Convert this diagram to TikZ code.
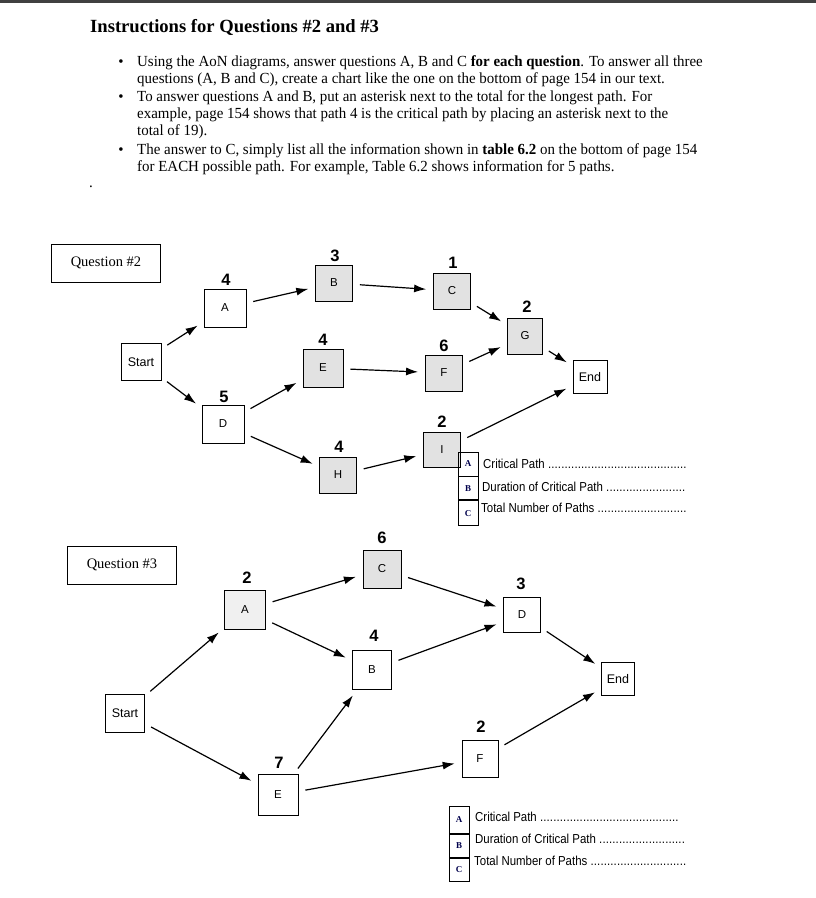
\documentclass[tikz,border=0pt]{standalone}
\usepackage{fontspec}
\setmainfont{Liberation Serif}
\setsansfont{Liberation Sans}
\newfontfamily\narrowsans{Liberation Sans}[FakeStretch=0.88]
\newfontfamily\bodyserif{Liberation Serif}[FakeStretch=0.97]
\usetikzlibrary{arrows.meta}
\definecolor{boxgray}{HTML}{E2E2E2}
\newcommand{\mydots}[1]{\makebox[#1]{\leaders\hbox to 3.3pt{\hss.\hss}\hfill}}
\tikzset{
  act/.style={draw, line width=0.8pt, minimum width=37pt, minimum height=36pt, inner sep=0pt,
    font=\sffamily\fontsize{11.5}{13}\selectfont},
  gact/.style={act, fill=boxgray},
  se/.style={draw, line width=0.8pt, minimum width=36pt, minimum height=32pt, inner sep=0pt,
    font=\sffamily\fontsize{12.5}{14}\selectfont},
  num/.style={font=\sffamily\bfseries\fontsize{16.5}{18}\selectfont, inner sep=0pt},
  arr/.style={-{Latex[length=12pt,width=8pt]}, line width=1.2pt, shorten >=7pt, shorten <=7pt},
  qbox/.style={draw, line width=0.8pt, minimum width=109pt, minimum height=38pt, inner sep=0pt,
    font=\fontsize{14.5}{16}\selectfont},
  body/.style={anchor=base west, inner sep=0pt, font=\bodyserif\fontsize{15.4}{17}\selectfont},
  lbox/.style={draw, line width=0.8pt, minimum width=20pt, minimum height=23pt, inner sep=0pt,
    font=\bfseries\fontsize{9}{10}\selectfont, text=blue!30!black},
  ltext/.style={anchor=base west, inner sep=0pt, font=\narrowsans\fontsize{13}{14}\selectfont},
}
\begin{document}
\begin{tikzpicture}[x=1pt,y=-1pt]
\useasboundingbox (0,0) rectangle (816,898);
\fill[black!75] (0,0) rectangle (816,3);
% header
\node[anchor=base west, inner sep=0pt, font=\bfseries\fontsize{18.6}{20}\selectfont] (title) at (90,32) {Instructions for Questions \#2 and \#3};
\node[anchor=base, inner sep=0pt, font=\fontsize{15}{15}\selectfont] (b1) at (121,66) {\textbullet};
\node[anchor=base, inner sep=0pt, font=\fontsize{15}{15}\selectfont] (b2) at (121,101) {\textbullet};
\node[anchor=base, inner sep=0pt, font=\fontsize{15}{15}\selectfont] (b3) at (121,154) {\textbullet};
\node[body] (l1) at (137,66) {Using the AoN diagrams, answer questions A, B and C \textbf{for each question}. To answer all three};
\node[body] (l2) at (137,83) {questions (A, B and C), create a chart like the one on the bottom of page 154 in our text.};
\node[body] (l3) at (137,101) {To answer questions A and B, put an asterisk next to the total for the longest path. For};
\node[body] (l4) at (137,118) {example, page 154 shows that path 4 is the critical path by placing an asterisk next to the};
\node[body] (l5) at (137,135) {total of 19).};
\node[body] (l6) at (137,154) {The answer to C, simply list all the information shown in \textbf{table 6.2} on the bottom of page 154};
\node[body] (l7) at (137,171) {for EACH possible path. For example, Table 6.2 shows information for 5 paths.};
\node[body] (dot) at (89,187) {.};

% ---------------- Question 2 ----------------
\node[qbox] (q2) at (106,263) {Question \#2};
\node[se, minimum width=40pt, minimum height=37pt] (s2) at (141,362) {Start};
\node[act, minimum width=42pt, minimum height=38pt] (a2) at (225,308) {A};
\node[gact] (bb2) at (334,283) {B};
\node[gact] (c2) at (452,291) {C};
\node[gact, minimum width=35pt] (g2) at (525,336) {G};
\node[gact, minimum width=40pt, minimum height=38pt] (e2) at (323,368) {E};
\node[gact] (f2) at (444,373) {F};
\node[se, minimum width=34pt, minimum height=33pt] (end2) at (590,377) {End};
\node[act, minimum width=42pt, minimum height=38pt] (d2) at (223,424) {D};
\node[gact] (h2) at (338,475) {H};
\node[gact, minimum height=35pt] (i2) at (442,450) {I};
\node[num] (a2n) at (226,280) {4};
\node[num] (bb2n) at (335,256) {3};
\node[num] (c2n) at (453,263) {1};
\node[num] (g2n) at (527,307) {2};
\node[num] (e2n) at (323,340) {4};
\node[num] (f2n) at (444,346) {6};
\node[num] (d2n) at (224,397) {5};
\node[num] (h2n) at (339,447) {4};
\node[num] (i2n) at (442,422) {2};
\draw[arr] (s2) -- (a2);
\draw[arr] (s2) -- (d2);
\draw[arr] (a2) -- (bb2);
\draw[arr] (bb2) -- (c2);
\draw[arr] (c2) -- (g2);
\draw[arr] (g2) -- (end2);
\draw[arr] (e2) -- (f2);
\draw[arr] (f2) -- (g2);
\draw[arr] (d2) -- (e2);
\draw[arr] (d2) -- (h2);
\draw[arr] (h2) -- (i2);
\draw[arr] (i2) -- (end2);
% legend 2
\node[lbox, minimum height=24pt] (la2) at (468,464) {A};
\node[lbox, anchor=north] (lb2) at (la2.south) {B};
\node[lbox, anchor=north, minimum height=25pt] (lc2) at (lb2.south) {C};
\node[ltext] (ta2) at (483,468) {Critical Path \mydots{140pt}};
\node[ltext] (tb2) at (482,491) {Duration of Critical Path \mydots{82pt}};
\node[ltext] (tc2) at (481,512) {Total Number of Paths \mydots{92pt}};

% ---------------- Question 3 ----------------
\node[qbox] (q3) at (122,565) {Question \#3};
\node[se, minimum width=39pt, minimum height=38pt] (s3) at (125,713) {Start};
\node[gact, minimum width=41pt, minimum height=39pt, fill=boxgray!50] (a3) at (245,610) {A};
\node[gact, minimum width=38pt, minimum height=38pt] (c3) at (382,569) {C};
\node[act, minimum width=39pt, minimum height=39pt] (bb3) at (372,670) {B};
\node[act, minimum width=37pt, minimum height=35pt] (d3) at (522,615) {D};
\node[se, minimum width=33pt, minimum height=33pt] (end3) at (618,679) {End};
\node[act, minimum width=36pt, minimum height=37pt] (f3) at (480,759) {F};
\node[act, minimum width=40pt, minimum height=41pt] (e3) at (278,795) {E};
\node[num] (a3n) at (247,578) {2};
\node[num] (c3n) at (382,538) {6};
\node[num] (bb3n) at (374,636) {4};
\node[num] (d3n) at (521,584) {3};
\node[num] (f3n) at (481,727) {2};
\node[num] (e3n) at (279,763) {7};
\draw[arr] (s3) -- (a3);
\draw[arr] (s3) -- (e3);
\draw[arr] (a3) -- (c3);
\draw[arr] (a3) -- (bb3);
\draw[arr] (c3) -- (d3);
\draw[arr] (bb3) -- (d3);
\draw[arr] (e3) -- (bb3);
\draw[arr] (e3) -- (f3);
\draw[arr] (d3) -- (end3);
\draw[arr] (f3) -- (end3);
% legend 3
\node[lbox, minimum height=27pt] (la3) at (459,820) {A};
\node[lbox, anchor=north] (lb3) at (la3.south) {B};
\node[lbox, anchor=north] (lc3) at (lb3.south) {C};
\node[ltext] (ta3) at (475,821) {Critical Path \mydots{140pt}};
\node[ltext] (tb3) at (475,843) {Duration of Critical Path \mydots{86pt}};
\node[ltext] (tc3) at (474,865) {Total Number of Paths \mydots{96pt}};
\end{tikzpicture}
\end{document}
